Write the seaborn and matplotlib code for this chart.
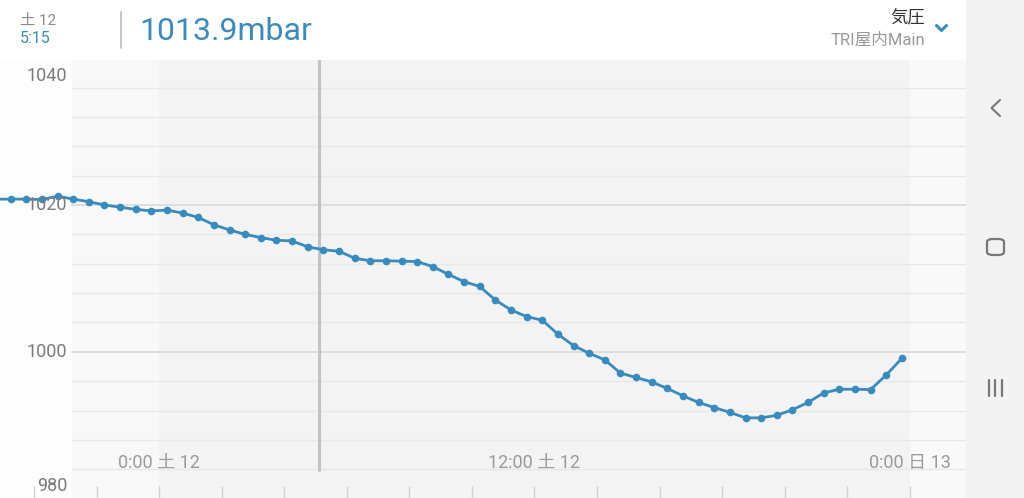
import matplotlib
matplotlib.use("Agg")
import matplotlib.pyplot as plt
from matplotlib.lines import Line2D
from matplotlib.patches import Rectangle, FancyBboxPatch
import numpy as np
import pandas as pd
import seaborn as sns

# ---------------- data ----------------
hours = [-5.25, -4.75, -4.25, -3.75, -3.25, -2.75, -2.25, -1.75, -1.25, -0.75, -0.25,
         0.25, 0.75, 1.25, 1.75, 2.25, 2.75, 3.25, 3.75, 4.25, 4.75,
         5.25, 5.75, 6.25, 6.75, 7.25, 7.75, 8.25, 8.75, 9.25, 9.75,
         10.25, 10.75, 11.25, 11.75, 12.25, 12.75, 13.25, 13.75, 14.25, 14.75,
         15.25, 15.75, 16.25, 16.75, 17.25, 17.75, 18.25, 18.75, 19.25, 19.75,
         20.25, 20.75, 21.25, 21.75, 22.25, 22.75, 23.25, 23.75]
pressure = [1020.8, 1020.8, 1020.8, 1020.75, 1021.2, 1020.8, 1020.45, 1020.0, 1019.7, 1019.4, 1019.2,
            1019.3, 1018.9, 1018.3, 1017.3, 1016.6, 1016.0, 1015.55, 1015.2, 1015.1, 1014.3,
            1013.9, 1013.7, 1012.75, 1012.4, 1012.4, 1012.35, 1012.3, 1011.6, 1010.55, 1009.55,
            1008.9, 1007.05, 1005.7, 1004.8, 1004.3, 1002.4, 1000.85, 999.8, 998.9, 997.1,
            996.5, 995.9, 995.0, 994.0, 993.1, 992.4, 991.75, 991.0, 991.0, 991.35,
            992.1, 993.1, 994.4, 994.9, 994.9, 994.85, 996.85, 999.1]

y_major = [1040, 1020, 1000, 980]
y_minor = list(range(984, 1040, 4))
x_tick_hours = list(range(-4, 25, 2))
x_label_hours = [0, 12, 24]
x_labels = ["0:00 土 12", "12:00 土 12", "0:00 日 13"]
cursor_hour = 5.12
header_value = "1013.9mbar"
header_day = "土 12"
header_time = "5:15"
title_main = "気圧"
title_sub = "TRI屋内Main"

# ---------------- style ----------------
sns.set_theme(style="white")
plt.rcParams["font.family"] = ["Roboto", "Noto Sans CJK JP", "DejaVu Sans"]

W, H = 1024, 498
fig = plt.figure(figsize=(W / 100, H / 100), dpi=100)
fig.patch.set_facecolor("#ffffff")

def fx(px):
    return px / W

def fy(py):
    return 1 - py / H

# layout (pixels)
AX_L, AX_R, AX_T, AX_B = 0, 966, 60, 498
PX_PER_H = 31.27
ZERO_PX = 159.2
PX_PER_MB = 7.34
Y1020_PX = 205.0

def h_at(px):
    return (px - ZERO_PX) / PX_PER_H

def mb_at(py):
    return 1020 - (py - Y1020_PX) / PX_PER_MB

ax = fig.add_axes([fx(AX_L), fy(AX_B), fx(AX_R - AX_L), (AX_B - AX_T) / H])
ax.set_xlim(h_at(AX_L), h_at(AX_R))
ax.set_ylim(mb_at(AX_B), mb_at(AX_T))
ax.set_facecolor("#fdfdfd")
for s in ax.spines.values():
    s.set_visible(False)

grid_start = h_at(72)
ax.axvspan(grid_start, 0, color="#f8f8f8", lw=0, zorder=0)
ax.axvspan(0, 24, color="#f3f3f3", lw=0, zorder=0)
ax.axvspan(24, h_at(AX_R), color="#f9f9f9", lw=0, zorder=0)

# gridlines
xmin_frac = 72 / (AX_R - AX_L)
for v in y_minor:
    if v in y_major:
        continue
    ax.axhline(v, xmin=xmin_frac, xmax=1, color="#e8e8e8", lw=1.0, zorder=1)
for v in y_major:
    ax.axhline(v, xmin=xmin_frac, xmax=1, color="#d9d9d9", lw=1.2, zorder=1)

# ticks at bottom
ax.set_xticks(x_tick_hours)
ax.set_yticks([])
ax.tick_params(axis="x", direction="in", length=8.5, width=1.0, color="#d2d2d2",
               labelbottom=False, bottom=True, pad=0)

# y labels
for v in y_major:
    if v == y_major[0]:
        ax.annotate(str(v), xy=(67 / 966, v), xycoords=("axes fraction", "data"),
                    xytext=(0, -9), textcoords="offset pixels",
                    ha="right", va="top", fontsize=13, color="#7b7b7b", zorder=5,
                    annotation_clip=False)
    elif v == y_major[-1]:
        ax.annotate(str(v), xy=(67 / 966, v), xycoords=("axes fraction", "data"),
                    xytext=(0, 4), textcoords="offset pixels",
                    ha="right", va="bottom", fontsize=13, color="#7b7b7b", zorder=5,
                    annotation_clip=False)
    else:
        ax.annotate(str(v), xy=(67 / 966, v), xycoords=("axes fraction", "data"),
                    ha="right", va="center", fontsize=13, color="#7b7b7b", zorder=5)

# x labels
for hx, lab in zip(x_label_hours, x_labels):
    ax.annotate(lab, xy=(hx, mb_at(463)), xycoords="data",
                ha="center", va="center", fontsize=13, color="#9a9a9a", zorder=5,
                annotation_clip=False)

# cursor line
ax.axvline(cursor_hour, ymin=(AX_B - 470) / (AX_B - AX_T), ymax=1,
           color="#c2c2c2", lw=2.2, zorder=2)

# data line
df = pd.DataFrame({"hour": hours, "mbar": pressure})
sns.lineplot(data=df, x="hour", y="mbar", ax=ax, color="#3a8bbd", linewidth=2.0,
             marker="o", markersize=5.5, markeredgewidth=0, zorder=4)
ax.set_xlabel("")
ax.set_ylabel("")
ax.set_xlim(h_at(AX_L), h_at(AX_R))
ax.set_ylim(mb_at(AX_B), mb_at(AX_T))

# ---------------- header ----------------
fig.patches.append(Rectangle((0, fy(60)), fx(966), 60 / H, transform=fig.transFigure,
                             facecolor="#ffffff", edgecolor="none", zorder=0))
fig.text(fx(38), fy(21), header_day, ha="center", va="center", fontsize=11, color="#8a8a8a")
fig.text(fx(35), fy(38), header_time, ha="center", va="center", fontsize=11.5, color="#3d8ab9")
fig.lines.append(Line2D([fx(121), fx(121)], [fy(12), fy(48)], transform=fig.transFigure,
                        color="#c0c0c0", lw=1.3))
fig.text(fx(139), fy(32), header_value, ha="left", va="center", fontsize=23, color="#3d8ab9")
fig.text(fx(925), fy(18), title_main, ha="right", va="center", fontsize=12.5, color="#333333")
fig.text(fx(925), fy(40), title_sub, ha="right", va="center", fontsize=12, color="#999999")
fig.lines.append(Line2D([fx(936.5), fx(941.5), fx(946.5)], [fy(25.5), fy(30.5), fy(25.5)],
                        transform=fig.transFigure, color="#3d8ab9", lw=2.2,
                        solid_capstyle="round", solid_joinstyle="round"))

# ---------------- navigation bar ----------------
fig.patches.append(Rectangle((fx(966), 0), fx(W - 966), 1, transform=fig.transFigure,
                             facecolor="#f2f2f2", edgecolor="none", zorder=0))
fig.lines.append(Line2D([fx(1000), fx(991.5), fx(1000)], [fy(100), fy(108), fy(116)],
                        transform=fig.transFigure, color="#777777", lw=1.5,
                        solid_capstyle="round", solid_joinstyle="round"))
fig.patches.append(FancyBboxPatch((fx(987), fy(255)), fx(17), 16 / H,
                                  boxstyle="round,pad=0,rounding_size=0.006",
                                  transform=fig.transFigure, facecolor="none",
                                  edgecolor="#777777", lw=1.6))
for xx in (988.5, 995, 1001.5):
    fig.lines.append(Line2D([fx(xx), fx(xx)], [fy(380), fy(396)], transform=fig.transFigure,
                            color="#777777", lw=1.6))

fig.savefig("out.png", dpi=100)
